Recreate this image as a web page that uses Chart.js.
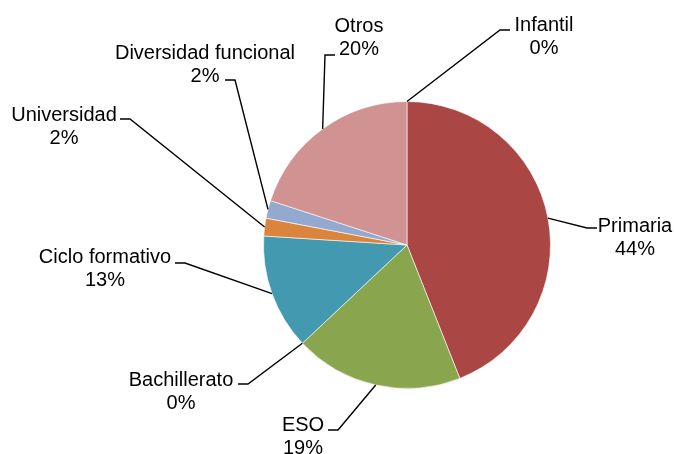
<!DOCTYPE html>
<html>
<head>
<meta charset="utf-8">
<script src="https://cdn.jsdelivr.net/npm/chart.js@4/dist/chart.umd.min.js"></script>
<style>
    body { margin: 0; background: #fff; }
    #grafico { display: block; }
</style>
</head>
<body>
<canvas id="grafico" width="674" height="454"></canvas>
<script>
// Datos del gráfico
const etapas = ['Infantil', 'Primaria', 'ESO', 'Bachillerato', 'Ciclo formativo', 'Universidad', 'Diversidad funcional', 'Otros'];
const porcentajes = [0, 44, 19, 0, 13, 2, 2, 20];
const colores = ['#4572A7', '#AA4643', '#89A54E', '#80699B', '#4299B0', '#DB843D', '#93A9CF', '#D19392'];

// Donde va cada etiqueta: [x texto, linea base, x codo, y codo, x final de la cola]
const posEtiquetas = [
    [544, 31, 500, 30, 510],
    [635, 232, 587, 228, 597],
    [303, 431, 338, 430, 328],
    [181, 386, 248, 384, 238],
    [105, 263, 185, 263, 175],
    [64, 121, 130, 119, 120],
    [205, 59, 235, 80, 225],
    [359, 32, 325, 55, 335]
];

// Plugin para dibujar etiquetas con líneas guía
const etiquetasPlugin = {
    id: 'etiquetas',
    afterDatasetsDraw(chart) {
        const c = chart.ctx;
        const arcs = chart.getDatasetMeta(0).data;
        c.save();
        c.strokeStyle = '#000';
        c.lineWidth = 1.4;
        c.fillStyle = '#000';
        c.font = '20px "Liberation Sans", Arial, sans-serif';
        c.textAlign = 'center';
        c.textBaseline = 'alphabetic';
        arcs.forEach((arc, i) => {
            const p = arc.getProps(['x', 'y', 'startAngle', 'endAngle', 'outerRadius'], true);
            const mid = (p.startAngle + p.endAngle) / 2;
            const sx = p.x + Math.cos(mid) * p.outerRadius;
            const sy = p.y + Math.sin(mid) * p.outerRadius;
            const [tx, ty, ex, ey, cx] = posEtiquetas[i];
            c.beginPath();
            c.moveTo(sx, sy);
            c.lineTo(ex, ey);
            c.lineTo(cx, ey);
            c.stroke();
            c.fillText(etapas[i], tx, ty);
            c.fillText(porcentajes[i] + '%', tx, ty + 23);
        });
        c.restore();
    }
};

const ctx = document.getElementById('grafico');
new Chart(ctx, {
    type: 'pie',
    data: {
        labels: etapas,
        datasets: [{
            data: porcentajes,
            backgroundColor: colores,
            borderColor: 'rgba(255,255,255,0.6)',
            borderWidth: (c) => c.raw === 0 ? 0 : 1
        }]
    },
    options: {
        responsive: false,
        animation: false,
        layout: {
            padding: { left: 263, right: 123, top: 101, bottom: 65 }
        },
        plugins: {
            legend: { display: false },
            tooltip: { enabled: false }
        }
    },
    plugins: [etiquetasPlugin]
});
</script>
</body>
</html>
